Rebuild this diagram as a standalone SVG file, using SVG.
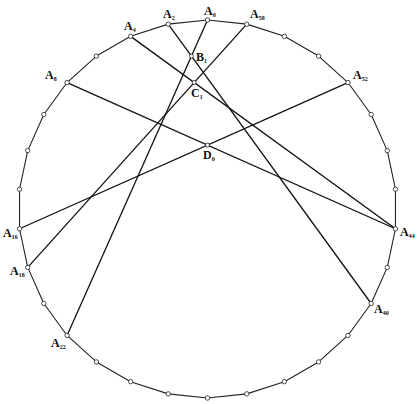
<svg xmlns="http://www.w3.org/2000/svg" width="420" height="404" viewBox="0 0 420 404">
<style>
.edge{fill:none;stroke:#222;stroke-width:1.1;stroke-linejoin:round}
.chord{stroke:#111;stroke-width:1.3;fill:none}
.v{fill:#fff;stroke:#222;stroke-width:0.8}
.lbl{font-family:"Liberation Serif","Times New Roman",serif;font-weight:bold;font-size:12px;fill:#111}
.sub{font-size:6px}
</style>
<rect width="420" height="404" fill="#fff"/>
<g id="polygon">
<polygon class="edge" points="207.5,20 168.21,24.14 130.63,36.35 96.41,56.1 67.05,82.54 43.83,114.5 27.74,150.6 19.54,189.25 19.54,228.75 27.74,267.4 43.83,303.5 67.05,335.46 96.41,361.9 130.63,381.65 168.21,393.86 207.5,398 246.79,393.86 284.37,381.65 318.59,361.9 347.95,335.46 371.17,303.5 387.26,267.4 395.46,228.75 395.46,189.25 387.26,150.6 371.17,114.5 347.95,82.54 318.59,56.1 284.37,36.35 246.79,24.14"/>
</g>
<g id="connectors">
<line class="chord" x1="207.5" y1="20" x2="67.05" y2="335.46"/>
<line class="chord" x1="168.21" y1="24.14" x2="371.17" y2="303.5"/>
<line class="chord" x1="130.63" y1="36.35" x2="395.46" y2="228.75"/>
<line class="chord" x1="246.79" y1="24.14" x2="27.74" y2="267.4"/>
<line class="chord" x1="67.05" y1="82.54" x2="395.46" y2="228.75"/>
<line class="chord" x1="19.54" y1="228.75" x2="347.95" y2="82.54"/>
</g>
<g id="vertices">
<circle class="v" cx="96.41" cy="56.1" r="2.2"/>
<circle class="v" cx="43.83" cy="114.5" r="2.2"/>
<circle class="v" cx="27.74" cy="150.6" r="2.2"/>
<circle class="v" cx="19.54" cy="189.25" r="2.2"/>
<circle class="v" cx="43.83" cy="303.5" r="2.2"/>
<circle class="v" cx="96.41" cy="361.9" r="2.2"/>
<circle class="v" cx="130.63" cy="381.65" r="2.2"/>
<circle class="v" cx="168.21" cy="393.86" r="2.2"/>
<circle class="v" cx="207.5" cy="398" r="2.2"/>
<circle class="v" cx="246.79" cy="393.86" r="2.2"/>
<circle class="v" cx="284.37" cy="381.65" r="2.2"/>
<circle class="v" cx="318.59" cy="361.9" r="2.2"/>
<circle class="v" cx="347.95" cy="335.46" r="2.2"/>
<circle class="v" cx="387.26" cy="267.4" r="2.2"/>
<circle class="v" cx="395.46" cy="189.25" r="2.2"/>
<circle class="v" cx="387.26" cy="150.6" r="2.2"/>
<circle class="v" cx="371.17" cy="114.5" r="2.2"/>
<circle class="v" cx="318.59" cy="56.1" r="2.2"/>
<circle class="v" cx="284.37" cy="36.35" r="2.2"/>
</g>
<g id="A0"><circle class="v" cx="207.5" cy="20" r="2.2"/><text class="lbl" x="204" y="15">A<tspan class="sub" dy="2">0</tspan></text></g>
<g id="A2"><circle class="v" cx="168.21" cy="24.14" r="2.2"/><text class="lbl" x="163" y="18">A<tspan class="sub" dy="2">2</tspan></text></g>
<g id="A4"><circle class="v" cx="130.63" cy="36.35" r="2.2"/><text class="lbl" x="124" y="30">A<tspan class="sub" dy="2">4</tspan></text></g>
<g id="A58"><circle class="v" cx="246.79" cy="24.14" r="2.2"/><text class="lbl" x="250" y="18">A<tspan class="sub" dy="2">58</tspan></text></g>
<g id="A8"><circle class="v" cx="67.05" cy="82.54" r="2.2"/><text class="lbl" x="45" y="79">A<tspan class="sub" dy="2">8</tspan></text></g>
<g id="A52"><circle class="v" cx="347.95" cy="82.54" r="2.2"/><text class="lbl" x="353" y="79">A<tspan class="sub" dy="2">52</tspan></text></g>
<g id="A16"><circle class="v" cx="19.54" cy="228.75" r="2.2"/><text class="lbl" x="3" y="237">A<tspan class="sub" dy="2">16</tspan></text></g>
<g id="A18"><circle class="v" cx="27.74" cy="267.4" r="2.2"/><text class="lbl" x="10" y="275">A<tspan class="sub" dy="2">18</tspan></text></g>
<g id="A22"><circle class="v" cx="67.05" cy="335.46" r="2.2"/><text class="lbl" x="51" y="347">A<tspan class="sub" dy="2">22</tspan></text></g>
<g id="A44"><circle class="v" cx="395.46" cy="228.75" r="2.2"/><text class="lbl" x="400" y="236">A<tspan class="sub" dy="2">44</tspan></text></g>
<g id="A40"><circle class="v" cx="371.17" cy="303.5" r="2.2"/><text class="lbl" x="374" y="313">A<tspan class="sub" dy="2">40</tspan></text></g>
<g id="B1"><circle class="v" cx="191.43" cy="56.09" r="2"/><text class="lbl" x="196" y="61">B<tspan class="sub" dy="2">1</tspan></text></g>
<g id="C1"><circle class="v" cx="194.2" cy="82.54" r="2"/><text class="lbl" x="191" y="97">C<tspan class="sub" dy="2">1</tspan></text></g>
<g id="D0"><circle class="v" cx="207.5" cy="145.07" r="2"/><text class="lbl" x="203" y="159">D<tspan class="sub" dy="2">0</tspan></text></g>
</svg>
